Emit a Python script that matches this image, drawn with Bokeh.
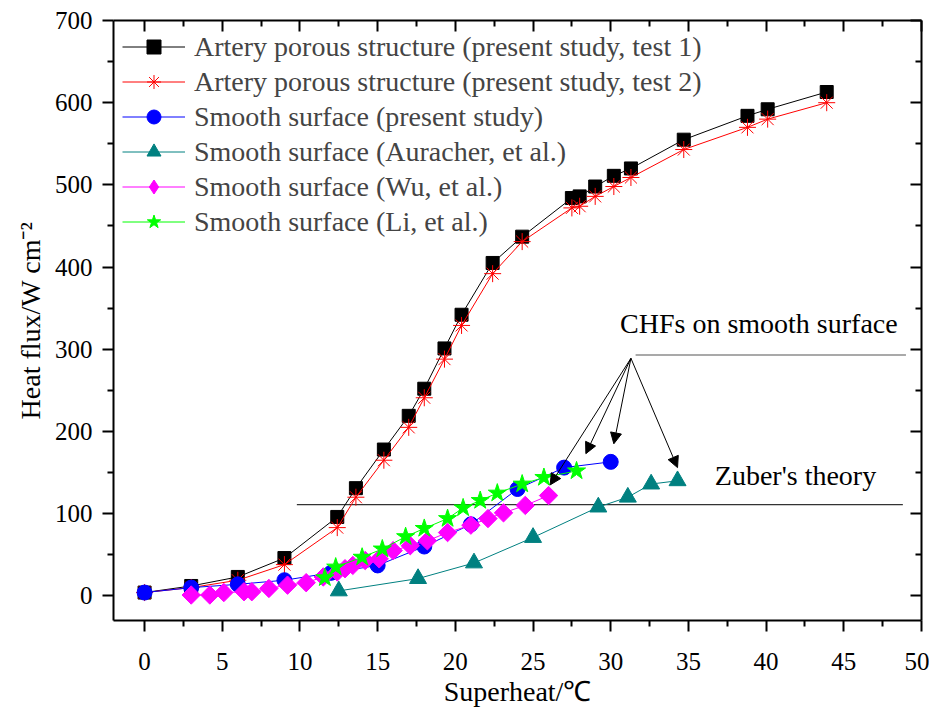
import numpy as np
from bokeh.plotting import figure
from bokeh.models import (LinearAxis, FixedTicker, Legend, LegendItem, Range1d,
                          Arrow, NormalHead, ColumnDataSource)
from bokeh.core.properties import value
from bokeh.embed import file_html
from bokeh.resources import INLINE

# ---- data ----
t1_x = [0, 3, 6, 9.0, 12.4, 13.6, 15.4, 17.0, 18.0, 19.3, 20.4, 22.4, 24.3, 27.5, 28.0, 29.0, 30.2, 31.3, 34.7, 38.8, 40.1, 43.9]
t1_y = [4, 12, 23, 46, 96, 131, 178, 219, 252, 301, 342, 405, 437, 484, 486, 498, 511, 520, 555, 584, 592, 613]

t2_x = [0, 3, 6, 9.0, 12.4, 13.6, 15.4, 17.0, 18.0, 19.3, 20.4, 22.4, 24.3, 27.5, 28.0, 29.0, 30.2, 31.3, 34.7, 38.8, 40.1, 43.9]
t2_y = [4, 10, 19, 38, 83, 120, 165, 205, 241, 288, 329, 392, 431, 472, 474, 486, 498, 509, 543, 570, 580, 600]

sm_x = [0, 3, 6, 9, 12, 15, 18, 21, 24, 27, 30]
sm_y = [4, 10, 14, 19, 28, 37, 60, 87, 130, 156, 163]

au_x = [12.5, 17.6, 21.2, 25.0, 29.2, 31.1, 32.6, 34.3]
au_y = [6, 21, 40, 71, 108, 120, 136, 140]

wu_x = [3.0, 4.2, 5.1, 6.4, 6.9, 8.0, 9.2, 10.4, 11.5, 12.4, 12.9, 13.4, 14.2, 15.1, 16.0, 17.1, 18.2, 19.5, 21.0, 22.1, 23.1, 24.5, 26.0]
wu_y = [1, 1, 4, 5, 5, 9, 13, 16, 23, 29, 33, 37, 43, 45, 55, 61, 67, 77, 86, 94, 101, 110, 122]

li_x = [11.6, 12.3, 14.0, 15.3, 16.8, 18.0, 19.5, 20.5, 21.6, 22.7, 24.3, 25.7, 27.8]
li_y = [22, 35, 47, 57, 72, 82, 94, 107, 116, 125, 136, 144, 152]

labels = ["Artery porous structure (present study, test 1)",
          "Artery porous structure (present study, test 2)",
          "Smooth surface (present study)",
          "Smooth surface (Auracher, et al.)",
          "Smooth surface (Wu, et al.)",
          "Smooth surface (Li, et al.)"]

zuber_x = [9.8, 48.8]
zuber_y = [111, 111]
chf_x = [31.6, 49.0]
chf_y = [293, 293]
arrow_x0 = [31.3, 31.3, 31.3, 31.3]
arrow_y0 = [289, 289, 289, 289]
arrow_x1 = [26.1, 28.4, 30.2, 34.3]
arrow_y1 = [135, 173, 185, 156]

x_ticks = [0, 5, 10, 15, 20, 25, 30, 35, 40, 45, 50]
x_minor = [2.5 + 5 * i for i in range(10)]
y_ticks = [0, 100, 200, 300, 400, 500, 600, 700]
y_minor = [50 + 100 * i for i in range(7)]

FONT = "Liberation Serif"

p = figure(width=929, height=709, output_backend="svg", toolbar_location=None,
           x_range=Range1d(-2, 50), y_range=Range1d(-30, 700),
           min_border_left=113, min_border_top=20, min_border_right=8, min_border_bottom=81,
           x_axis_label="Superheat/\u2103", y_axis_label="Heat flux/W cm\u207b\u00b2")
p.xgrid.visible = False
p.ygrid.visible = False
p.outline_line_color = None
p.background_fill_color = "white"

for ax, tk, mn in ((p.xaxis[0], x_ticks, x_minor), (p.yaxis[0], y_ticks, y_minor)):
    ax.ticker = FixedTicker(ticks=tk, minor_ticks=mn)
    ax.axis_line_width = 2
    ax.major_tick_line_width = 2
    ax.minor_tick_line_width = 2
    ax.major_tick_out = 11
    ax.major_tick_in = 0
    ax.minor_tick_out = 6
    ax.minor_tick_in = 0
    ax.major_label_text_font = FONT
    ax.major_label_text_font_size = "25px"
    ax.major_label_text_color = "black"
    ax.axis_label_text_font = FONT
    ax.axis_label_text_font_size = "28px"
    ax.axis_label_text_font_style = "normal"
    ax.axis_label_text_color = "black"
    ax.axis_line_color = "black"
    ax.major_tick_line_color = "black"
    ax.minor_tick_line_color = "black"

p.xaxis[0].major_label_standoff = 21
p.xaxis[0].axis_label_standoff = 3
p.yaxis[0].major_label_standoff = 10
p.yaxis[0].axis_label_standoff = 6

# mirrored axes (ticks inward, no labels)
top = LinearAxis(ticker=FixedTicker(ticks=x_ticks, minor_ticks=x_minor))
right = LinearAxis(ticker=FixedTicker(ticks=y_ticks, minor_ticks=y_minor))
for ax in (top, right):
    ax.axis_line_width = 2
    ax.major_tick_line_width = 2
    ax.minor_tick_line_width = 2
    ax.major_tick_in = 11
    ax.major_tick_out = 0
    ax.minor_tick_in = 6
    ax.minor_tick_out = 0
    ax.major_label_text_font_size = "0px"
    ax.major_label_standoff = 0
    ax.axis_line_color = "black"
    ax.major_tick_line_color = "black"
    ax.minor_tick_line_color = "black"
p.add_layout(top, "above")
p.add_layout(right, "right")

# reference lines
p.line(zuber_x, zuber_y, line_color="#333333", line_width=1.2)
p.line(chf_x, chf_y, line_color="#555555", line_width=1.2)

series = [
    (t1_x, t1_y, "black", "square", 13, 0.0),
    (t2_x, t2_y, "red", "asterisk", 17, 0.0),
    (sm_x, sm_y, "blue", "circle", 15, 0.0),
    (au_x, au_y, "#008080", "triangle", 17, 0.0),
    (wu_x, wu_y, "magenta", "square", 13, 0.785398),
    (li_x, li_y, "#00FF00", "star", 19, 0.0),
]
legend_markers = ["square", "asterisk", "circle", "triangle", "diamond", "star"]

items = []
for (xs, ys, col, mk, sz, ang), lab, lmk in zip(series, labels, legend_markers):
    lr = p.line(xs, ys, line_color=col, line_width=1)
    sr = p.scatter(xs, ys, marker=mk, size=sz, angle=ang, fill_color=col, line_color=col,
                   line_width=1)
    rends = [lr, sr]
    if lmk != mk:
        # legend-only marker glyph (no visible point; the data are the rotated squares above)
        dr = p.scatter([np.nan], [np.nan], marker=lmk, size=sz, fill_color=col, line_color=col)
        rends = [lr, dr]
    items.append(LegendItem(label=lab, renderers=rends))

legend = Legend(items=items, location="top_left", margin=9, padding=0, spacing=0,
                glyph_width=63, glyph_height=35, label_height=35, label_standoff=9,
                label_text_font=FONT, label_text_font_size="28px",
                border_line_alpha=0, background_fill_alpha=0)
p.add_layout(legend)

# arrows
asrc = ColumnDataSource(dict(x0=arrow_x0, y0=arrow_y0, x1=arrow_x1, y1=arrow_y1))
p.add_layout(Arrow(end=NormalHead(size=11, fill_color="black", line_color="black", line_width=1),
                   x_start="x0", y_start="y0", x_end="x1", y_end="y1",
                   line_width=1, line_color="black", source=asrc))

p.text(x=[30.6], y=[331], text=["CHFs on smooth surface"], text_font=value(FONT),
       text_font_size="28px", text_baseline="middle", text_align="left", text_color="black")
p.text(x=[36.7], y=[146], text=["Zuber's theory"], text_font=value(FONT),
       text_font_size="28px", text_baseline="middle", text_align="left", text_color="black")

open("out.html", "w").write(file_html(p, INLINE))
